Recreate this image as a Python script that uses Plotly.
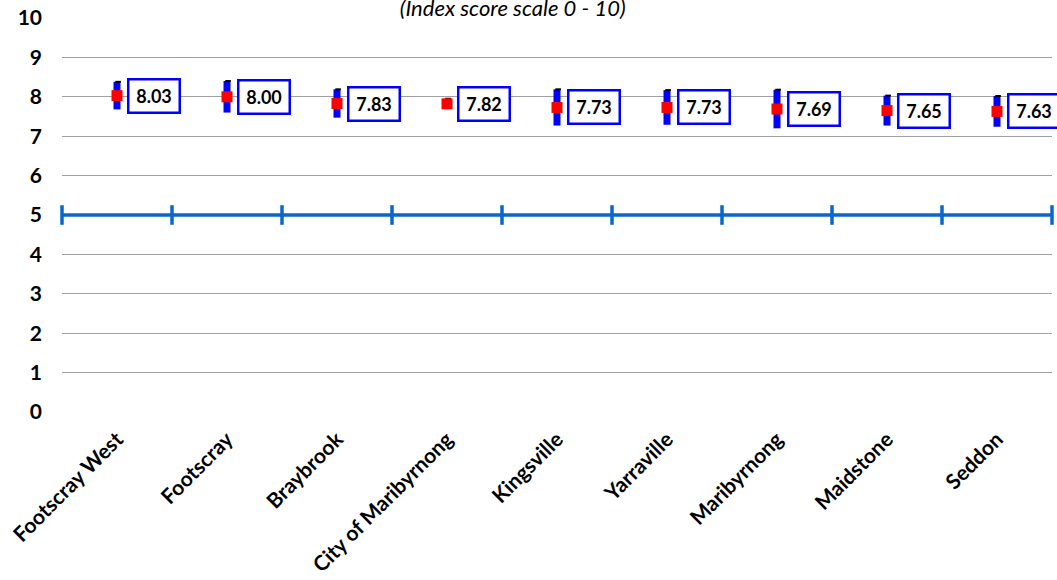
import plotly.graph_objects as go

categories = ["Footscray West", "Footscray", "Braybrook", "City of Maribyrnong",
              "Kingsville", "Yarraville", "Maribyrnong", "Maidstone", "Seddon"]
scores = [8.03, 8.00, 7.83, 7.82, 7.73, 7.73, 7.69, 7.65, 7.63]
ci_half = [0.35, 0.40, 0.36, 0.13, 0.46, 0.44, 0.49, 0.38, 0.39]
benchmark = 5
y_ticks = list(range(0, 11))
title_text = "(Index score scale 0 - 10)"

FONT = "Lato, 'Open Sans', sans-serif"
n = len(categories)
xs = list(range(n))

fig = go.Figure()

# benchmark line at 5 with tick marks at category boundaries
bx = [i - 0.5 for i in range(n + 1)]
fig.add_trace(go.Scatter(
    x=bx, y=[benchmark] * len(bx), mode="lines+markers",
    line=dict(color="#0a66cc", width=3.5),
    marker=dict(symbol="line-ns", size=14, line=dict(color="#0a66cc", width=3.5)),
    hoverinfo="skip", showlegend=False, cliponaxis=False))

# blue CI bars
fig.add_trace(go.Scatter(
    x=xs, y=scores, mode="markers",
    marker=dict(size=0.1, color="rgba(0,0,0,0)"),
    error_y=dict(type="data", array=ci_half, symmetric=True,
                 color="#0000ff", thickness=7, width=0),
    showlegend=False, hoverinfo="skip"))

# small black caps at top
fig.add_trace(go.Scatter(
    x=[x + 0.01 for x in xs], y=[s + c for s, c in zip(scores, ci_half)], mode="markers",
    marker=dict(symbol="line-ew", size=4, line=dict(color="black", width=2)),
    showlegend=False, hoverinfo="skip"))

# red square markers
fig.add_trace(go.Scatter(
    x=xs, y=scores, mode="markers",
    marker=dict(symbol="square", size=11, color="#ff0000"),
    showlegend=False))

for x, s in zip(xs, scores):
    fig.add_annotation(
        x=x, y=s, xref="x", yref="y", text=f"{s:.2f}", showarrow=False,
        xanchor="left", yanchor="middle", xshift=10,
        font=dict(family=FONT, size=18, color="black", weight="bold"),
        bgcolor="white", bordercolor="#0000ff", borderwidth=2.5, borderpad=1,
        width=47, height=29)

fig.update_layout(
    width=1057, height=580,
    margin=dict(l=62, r=5, t=18, b=168),
    plot_bgcolor="white", paper_bgcolor="white",
    title=dict(text=title_text, x=0.485, xanchor="center", y=0.986, yanchor="middle",
               font=dict(family=FONT, size=22, color="black", style="italic")),
    xaxis=dict(range=[-0.5, n - 0.5], tickvals=xs, ticktext=categories,
               tickangle=-45, showgrid=False, zeroline=False, showline=False,
               ticks="", automargin=False, ticklabelstandoff=10,
               tickfont=dict(family=FONT, size=21, color="black", weight="bold")),
    yaxis=dict(range=[0, 10], tickvals=y_ticks, showgrid=True, gridcolor="#a0a0a0",
               gridwidth=1, zeroline=False, showline=False, ticks="",
               ticklabelstandoff=19, automargin=False,
               tickfont=dict(family=FONT, size=21, color="black", weight="bold")),
)

fig.write_html("out.html", config={"displayModeBar": False},
               post_script="document.body.style.margin='0';document.body.style.overflow='hidden';")
